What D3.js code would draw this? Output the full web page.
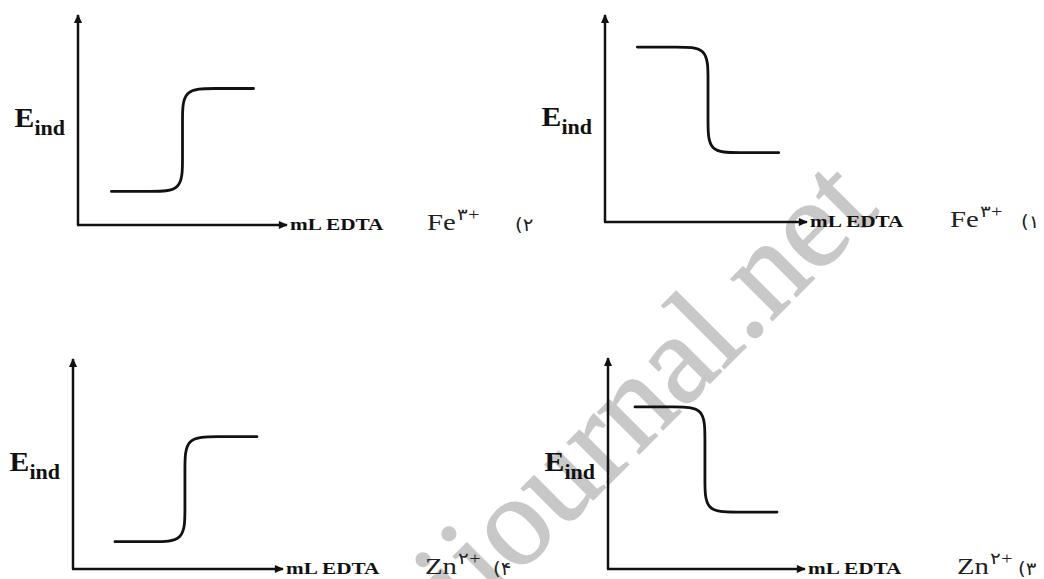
<!DOCTYPE html>
<html>
<head>
<meta charset="utf-8">
<script src="https://cdn.jsdelivr.net/npm/d3@7"></script>
<style>
  body { margin: 0; background: #fff; }
  svg { display: block; }
</style>
</head>
<body>
<div id="chart"></div>
<script>
// titration curves (x = mL EDTA, E = indicator potential, 0-10 units)
var fe2X = [1.6, 3.5, 5.0, 5.0, 5.0, 5.0, 6.5, 8.4];
var fe2E = [1.6, 1.6, 1.6, 3.1, 5.0, 6.5, 6.5, 6.5];
var fe1X = [1.6, 3.6, 5.1, 5.1, 5.1, 5.1, 6.6, 8.6];
var fe1E = [8.45, 8.45, 8.45, 6.95, 4.85, 3.35, 3.35, 3.35];
var zn4X = [2.0, 3.83, 5.33, 5.33, 5.33, 5.33, 6.83, 8.76];
var zn4E = [1.3, 1.3, 1.3, 2.8, 4.8, 6.3, 6.3, 6.3];
var zn3X = [1.37, 3.42, 4.92, 4.92, 4.92, 4.92, 6.42, 8.58];
var zn3E = [7.68, 7.68, 7.68, 6.18, 4.2, 2.7, 2.7, 2.7];

var ions = ["Fe", "Fe", "Zn", "Zn"];
var charges = ["۳+", "۳+", "۲+", "۲+"];
var options = ["(۲", "(۱", "(۴", "(۳"];
var xLabel = "mL EDTA";
var yLabel = ["E", "ind"];
var watermark = "ijournal.net";

var width = 1044, height = 579;
var stretch = 1.25; // text in the picture is stretched sideways

// where each small chart sits on the page
var panels = [
  {x: fe2X, e: fe2E, left: 78,  right: 287, top: 15,  bottom: 225, ionX: 427, optX: 515},
  {x: fe1X, e: fe1E, left: 605, right: 807, top: 15,  bottom: 222, ionX: 950, optX: 1021},
  {x: zn4X, e: zn4E, left: 73,  right: 283, top: 359, bottom: 569, ionX: 425, optX: 493},
  {x: zn3X, e: zn3E, left: 608, right: 805, top: 358, bottom: 569, ionX: 957, optX: 1018}
];

var svg = d3.select("#chart").append("svg")
  .attr("width", width)
  .attr("height", height);

svg.append("defs").append("marker")
  .attr("id", "arrow")
  .attr("markerUnits", "userSpaceOnUse")
  .attr("viewBox", "0 -5 10 10")
  .attr("refX", 9)
  .attr("refY", 0)
  .attr("markerWidth", 10)
  .attr("markerHeight", 9)
  .attr("orient", "auto")
  .append("path")
  .attr("d", "M0,-4.5L10,0L0,4.5Z")
  .attr("fill", "#111");

// watermark behind everything
svg.append("text")
  .attr("transform", "translate(881,212) rotate(-45)")
  .attr("text-anchor", "end")
  .attr("font-family", "Liberation Serif, Times New Roman, serif")
  .attr("font-size", 128)
  .attr("fill", "#c8c8c8")
  .attr("stroke", "#c8c8c8")
  .attr("stroke-width", 1.5)
  .text(watermark);

panels.forEach(function(p, i) {
  var xScale = d3.scaleLinear().domain([0, 10]).range([p.left, p.right]);
  var yScale = d3.scaleLinear().domain([0, 10]).range([p.bottom, p.top]);
  var g = svg.append("g");

  // axes with arrow heads
  g.append("line")
    .attr("x1", xScale(0)).attr("y1", yScale(0))
    .attr("x2", xScale(0)).attr("y2", yScale(10))
    .attr("stroke", "#111").attr("stroke-width", 2.5)
    .attr("marker-end", "url(#arrow)");
  g.append("line")
    .attr("x1", xScale(0) - 1).attr("y1", yScale(0))
    .attr("x2", xScale(10)).attr("y2", yScale(0))
    .attr("stroke", "#111").attr("stroke-width", 2.5)
    .attr("marker-end", "url(#arrow)");

  // titration curve
  var pts = p.x.map(function(v, k) { return [v, p.e[k]]; });
  var line = d3.line()
    .x(function(d) { return xScale(d[0]); })
    .y(function(d) { return yScale(d[1]); })
    .curve(d3.curveBasis);
  g.append("path")
    .attr("d", line(pts))
    .attr("fill", "none")
    .attr("stroke", "#111")
    .attr("stroke-width", 2.8)
    .attr("stroke-linecap", "round");

  // E_ind
  var midY = (p.top + p.bottom) / 2 + 7;
  var yl = g.append("g")
    .attr("transform", "translate(" + (p.left - 13) + "," + midY + ") scale(1.1,1)")
    .append("text")
    .attr("text-anchor", "end")
    .attr("font-family", "Liberation Serif, Times New Roman, serif")
    .attr("font-weight", "bold")
    .attr("fill", "#111");
  yl.append("tspan").attr("font-size", 27).text(yLabel[0]);
  yl.append("tspan").attr("font-size", 20).attr("dy", 8).text(yLabel[1]);

  // mL EDTA
  g.append("g")
    .attr("transform", "translate(" + (p.right + 3) + "," + (p.bottom + 5) + ") scale(" + stretch + ",1)")
    .append("text")
    .attr("font-family", "Liberation Serif, Times New Roman, serif")
    .attr("font-weight", "bold")
    .attr("font-size", 17)
    .attr("fill", "#111")
    .text(xLabel);

  // ion with charge, and option number
  var ion = g.append("g")
    .attr("transform", "translate(" + p.ionX + "," + (p.bottom + 5) + ") scale(" + stretch + ",1)")
    .append("text")
    .attr("font-family", "Liberation Serif, DejaVu Serif, serif")
    .attr("fill", "#222");
  ion.append("tspan").attr("font-size", 23).text(ions[i]);
  ion.append("tspan").attr("font-size", 16).attr("dy", -10).attr("dx", 1).text(charges[i]);

  g.append("g")
    .attr("transform", "translate(" + p.optX + "," + (p.bottom + 6) + ") scale(1.1,1)")
    .append("text")
    .attr("direction", "ltr")
    .attr("font-family", "DejaVu Sans, serif")
    .attr("font-size", 18)
    .attr("fill", "#222")
    .text(options[i]);
});
</script>
</body>
</html>
